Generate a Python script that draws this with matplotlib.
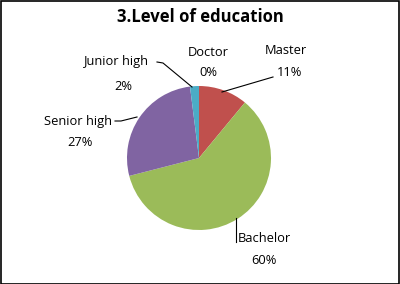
import matplotlib
matplotlib.use("Agg")
import matplotlib.pyplot as plt
from matplotlib.patches import Rectangle

plt.rcParams['font.family'] = ['Open Sans', 'DejaVu Sans']

categories = ["Doctor", "Master", "Bachelor", "Senior high", "Junior high"]
values = [0, 11, 60, 27, 2]
colors = ["#4F81BD", "#C0504D", "#9BBB59", "#8064A2", "#4BACC6"]

W, H = 400, 284
fig = plt.figure(figsize=(W / 100, H / 100), dpi=100)
ax = fig.add_axes([0, 0, 1, 1])

cx, cy, r = 199, H - 158, 72
ax.pie(values, colors=colors, startangle=90, counterclock=False,
       center=(cx, cy), radius=r, frame=True,
       wedgeprops=dict(linewidth=0))
ax.set_xlim(0, W)
ax.set_ylim(0, H)
ax.set_aspect('equal')
ax.axis('off')

ax.text(W / 2, H - 17, "3.Level of education", ha='center', va='center',
        fontsize=12, fontweight='bold')

# label positions (name x, name y, pct x, pct y), pixels from top-left
lab = {
    "Doctor": (208, 52, 208, 73),
    "Master": (286, 50, 290, 73),
    "Bachelor": (264, 238, 264, 261),
    "Senior high": (78, 122, 80, 143),
    "Junior high": (116, 61, 123, 86),
}
for name, v in zip(categories, values):
    x1, y1, x2, y2 = lab[name]
    ax.text(x1, H - y1, name, ha='center', va='center', fontsize=9.3)
    ax.text(x2, H - y2, f"{v}%", ha='center', va='center', fontsize=9.3)

# leader lines
lines = [
    [(273, 77), (222, 92)],
    [(157, 62), (163, 63), (192, 87)],
    [(115, 121), (121, 121), (137, 117)],
    [(236, 218), (236, 242)],
]
for pts in lines:
    xs = [p[0] for p in pts]
    ys = [H - p[1] for p in pts]
    ax.plot(xs, ys, color='black', linewidth=0.8)

fig.patches.append(Rectangle((0.5 / W, 0.5 / H), 1 - 1.5 / W, 1 - 1.5 / H,
                             transform=fig.transFigure, fill=False,
                             edgecolor='black', linewidth=1.2))
fig.savefig("out.png", dpi=100, facecolor='white')
